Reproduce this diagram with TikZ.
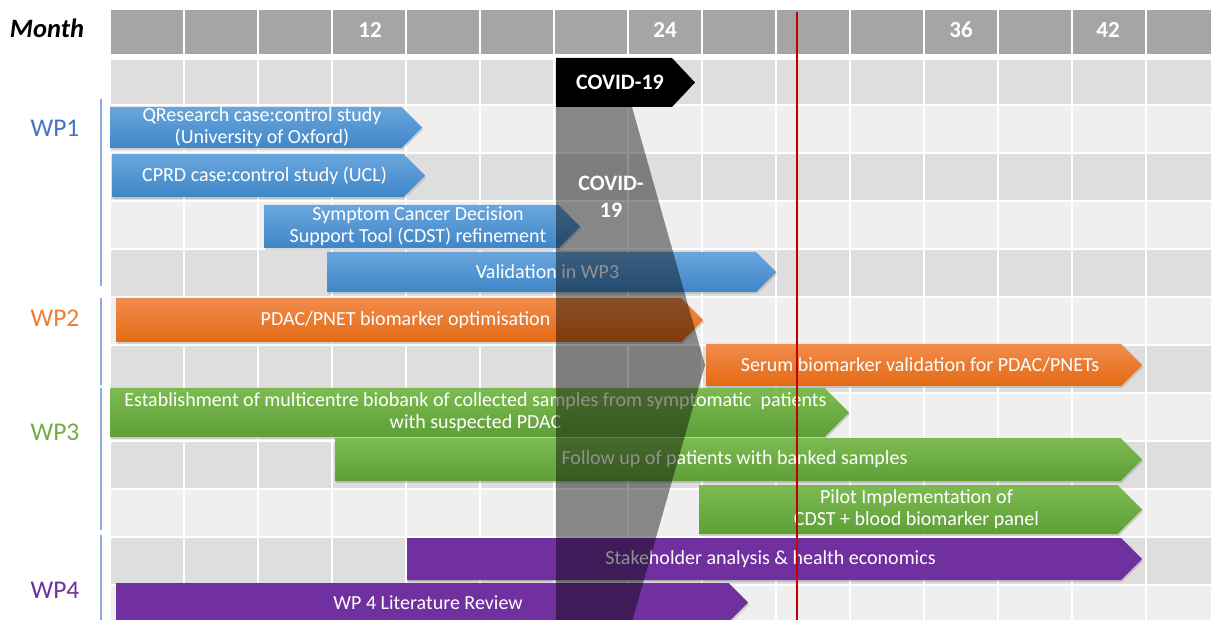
\documentclass[tikz,border=0pt]{standalone}
\usepackage{fontspec}
\setmainfont{Carlito}
\usetikzlibrary{shadows}

\definecolor{hdrgray}{HTML}{A5A5A5}
\definecolor{rowdark}{HTML}{DEDEDE}
\definecolor{rowlight}{HTML}{EFEFEF}
\definecolor{wpblue}{HTML}{4472C4}
\definecolor{wporange}{HTML}{ED7D31}
\definecolor{wpgreen}{HTML}{70AD47}
\definecolor{wppurple}{HTML}{7030A0}
\definecolor{bluetop}{HTML}{6AA6DD}
\definecolor{bluebot}{HTML}{3F86C8}
\definecolor{orangetop}{HTML}{F28C4C}
\definecolor{orangebot}{HTML}{E36A14}
\definecolor{greentop}{HTML}{7DBA52}
\definecolor{greenbot}{HTML}{5F9F37}
\definecolor{bracketblue}{HTML}{8FAADC}
\definecolor{deadline}{HTML}{C00000}

\tikzset{
  barshadow/.style={drop shadow={opacity=0.3, shadow xshift=1pt, shadow yshift=-2pt}},
  bluebar/.style={top color=bluetop, bottom color=bluebot, barshadow},
  orangebar/.style={top color=orangetop, bottom color=orangebot, barshadow},
  greenbar/.style={top color=greentop, bottom color=greenbot, barshadow},
  purplebar/.style={fill=wppurple, barshadow},
  bartext/.style={text=white, font=\fontsize{20}{22}\selectfont, align=center, inner sep=0pt},
  wplabel/.style={font=\fontsize{25.5}{27}\selectfont},
  monthnum/.style={text=white, font=\bfseries\fontsize{23}{25}\selectfont},
  bracket/.style={bracketblue, line width=1.5pt}
}

\newcommand{\taskbar}[7]{%
  \path[#2] (#3,#5) -- ({#4-(#6-#5)/2},#5) -- (#4,{(#5+#6)/2}) -- ({#4-(#6-#5)/2},#6) -- (#3,#6) -- cycle;
  \node[bartext] (#1) at ({(#3+#4)/2-4},{(#5+#6)/2}) {#7};
}

\begin{document}
\begin{tikzpicture}[x=1pt,y=-1pt]
\useasboundingbox (0,0) rectangle (1211,620);
\clip (0,0) rectangle (1211,620);
\fill[white] (0,0) rectangle (1211,620);

\fill[hdrgray] (110,10) rectangle (1211,54);
\fill[rowdark] (110,60) rectangle (1211,104);
\foreach \k/\c in {0/rowlight,1/rowdark,2/rowlight,3/rowdark,4/rowlight,5/rowdark,6/rowlight,7/rowdark,8/rowlight,9/rowdark,10/rowlight}
  \fill[\c] (110,{106+48*\k}) rectangle (1211,{152+48*\k});
\foreach \i in {0,...,15}
  \draw[white, line width=2.5pt] ({110+74*\i},8) -- ({110+74*\i},620);

\node[font=\bfseries\itshape\fontsize{26.5}{28}\selectfont] (month) at (47,28) {Month};
\node[monthnum] (m12) at (370,30) {12};
\node[monthnum] (m24) at (665,30) {24};
\node[monthnum] (m36) at (961,30) {36};
\node[monthnum] (m42) at (1108,30) {42};

\node[wplabel, text=wpblue] (wpone) at (55,128) {WP1};
\node[wplabel, text=wporange] (wptwo) at (55,318) {WP2};
\node[wplabel, text=wpgreen] (wpthree) at (55,432) {WP3};
\node[wplabel, text=wppurple] (wpfour) at (55,590) {WP4};
\draw[bracket] (101,99) -- (101,286);
\draw[bracket] (101,298) -- (101,385);
\draw[bracket] (101,388) -- (101,530);
\draw[bracket] (101,535) -- (101,622);

\taskbar{qres}{bluebar}{110}{422}{107}{148}{QResearch case:control study\\(University of Oxford)}
\taskbar{cprd}{bluebar}{112}{425}{154}{197}{CPRD case:control study (UCL)}
\taskbar{cdst}{bluebar}{264}{580}{205}{248}{Symptom Cancer Decision\\Support Tool (CDST) refinement}
\taskbar{valid}{bluebar}{327}{776}{252}{292}{Validation in WP3}
\taskbar{optim}{orangebar}{116}{703}{298}{342}{PDAC/PNET biomarker optimisation}
\taskbar{serum}{orangebar}{706}{1142}{344}{386}{Serum biomarker validation for PDAC/PNETs}
\taskbar{biobank}{greenbar}{110}{849}{388}{437}{Establishment of multicentre biobank of collected samples from symptomatic\ \ patients\\with suspected PDAC}
\taskbar{follow}{greenbar}{335}{1142}{438}{481}{Follow up of patients with banked samples}
\taskbar{pilot}{greenbar}{699}{1142}{485}{534}{Pilot Implementation of\\CDST + blood biomarker panel}
\taskbar{stake}{purplebar}{407}{1142}{538}{580}{Stakeholder analysis \& health economics}
\taskbar{litrev}{purplebar}{116}{748}{583}{622}{WP 4 Literature Review}

\fill[black, opacity=0.43] (556,107) -- (632,107) -- (705,365) -- (632,622) -- (556,622) -- cycle;
\path[fill=black] (556,58) -- (672,58) -- (695,82.5) -- (672,107) -- (556,107) -- cycle;
\node[text=white, font=\bfseries\fontsize{22}{24}\selectfont, inner sep=0pt] (covidtag) at (620,82) {COVID-19};
\node[text=white, font=\bfseries\fontsize{22}{27}\selectfont, align=center, inner sep=0pt] (covidgap) at (611,197) {COVID-\\19};

\draw[deadline, line width=2pt] (797,12) -- (797,622);
\end{tikzpicture}
\end{document}
